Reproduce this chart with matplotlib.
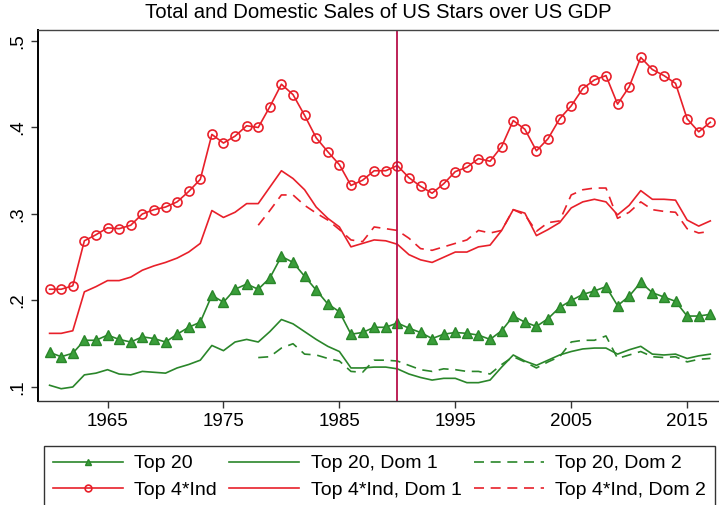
import numpy as np
import matplotlib
matplotlib.use("Agg")
import matplotlib.pyplot as plt

plt.rcParams['font.family'] = ['Liberation Sans', 'DejaVu Sans']

years = np.arange(1960, 2018)
years_dom2 = np.arange(1978, 2018)

top4 = [0.213, 0.213, 0.217, 0.269, 0.276, 0.284, 0.283, 0.287, 0.300, 0.305,
        0.308, 0.314, 0.326, 0.340, 0.392, 0.382, 0.390, 0.402, 0.400, 0.424,
        0.450, 0.438, 0.414, 0.388, 0.372, 0.357, 0.333, 0.339, 0.350, 0.350,
        0.356, 0.342, 0.332, 0.324, 0.335, 0.349, 0.354, 0.364, 0.361, 0.378,
        0.408, 0.398, 0.373, 0.387, 0.410, 0.425, 0.445, 0.455, 0.460, 0.427,
        0.447, 0.481, 0.467, 0.460, 0.451, 0.410, 0.395, 0.406]
top4_dom1 = [0.162, 0.162, 0.165, 0.210, 0.216, 0.223, 0.223, 0.227, 0.235, 0.240,
             0.244, 0.249, 0.256, 0.266, 0.304, 0.296, 0.302, 0.312, 0.312, 0.331,
             0.350, 0.341, 0.328, 0.308, 0.295, 0.285, 0.262, 0.266, 0.270, 0.269,
             0.265, 0.253, 0.247, 0.244, 0.250, 0.256, 0.256, 0.262, 0.264, 0.281,
             0.305, 0.301, 0.275, 0.282, 0.290, 0.307, 0.314, 0.317, 0.314, 0.299,
             0.310, 0.327, 0.317, 0.317, 0.316, 0.293, 0.286, 0.292]
top4_dom2 = [0.287, 0.304, 0.322, 0.322, 0.310, 0.301, 0.293, 0.282, 0.270, 0.268,
             0.285, 0.283, 0.281, 0.272, 0.260, 0.258, 0.262, 0.266, 0.270, 0.281,
             0.278, 0.281, 0.305, 0.299, 0.280, 0.290, 0.292, 0.322, 0.328, 0.330,
             0.330, 0.295, 0.302, 0.314, 0.305, 0.303, 0.302, 0.283, 0.278, 0.280]
top20 = [0.140, 0.135, 0.139, 0.154, 0.154, 0.160, 0.155, 0.152, 0.158, 0.156,
         0.152, 0.161, 0.169, 0.175, 0.206, 0.198, 0.213, 0.219, 0.213, 0.226,
         0.251, 0.244, 0.228, 0.212, 0.196, 0.187, 0.161, 0.163, 0.169, 0.169,
         0.174, 0.168, 0.163, 0.156, 0.161, 0.163, 0.162, 0.160, 0.155, 0.165,
         0.182, 0.175, 0.170, 0.179, 0.192, 0.200, 0.207, 0.211, 0.216, 0.194,
         0.205, 0.221, 0.209, 0.204, 0.199, 0.182, 0.182, 0.184]
top20_dom1 = [0.102, 0.098, 0.100, 0.114, 0.116, 0.120, 0.115, 0.114, 0.118, 0.117,
              0.116, 0.122, 0.126, 0.131, 0.148, 0.142, 0.152, 0.155, 0.152, 0.164,
              0.178, 0.173, 0.164, 0.155, 0.147, 0.141, 0.122, 0.122, 0.123, 0.123,
              0.121, 0.115, 0.111, 0.108, 0.110, 0.110, 0.105, 0.105, 0.108, 0.123,
              0.137, 0.130, 0.125, 0.131, 0.137, 0.141, 0.144, 0.145, 0.145, 0.138,
              0.143, 0.147, 0.138, 0.137, 0.138, 0.133, 0.136, 0.138]
top20_dom2 = [0.134, 0.135, 0.145, 0.150, 0.138, 0.137, 0.133, 0.130, 0.118, 0.117,
              0.131, 0.131, 0.130, 0.125, 0.120, 0.118, 0.121, 0.120, 0.118, 0.118,
              0.115, 0.126, 0.135, 0.129, 0.122, 0.129, 0.135, 0.152, 0.154, 0.154,
              0.159, 0.133, 0.137, 0.141, 0.135, 0.134, 0.135, 0.129, 0.132, 0.133]

xticks = [1965, 1975, 1985, 1995, 2005, 2015]
yticks = [0.1, 0.2, 0.3, 0.4, 0.5]
ytick_labels = ['.1', '.2', '.3', '.4', '.5']

green = '#2a862a'
green_fill = '#3a9e3a'
red = '#e8202a'
vline_col = '#b8104a'
dash = (6, 4)

fig = plt.figure(figsize=(7.19, 5.05), dpi=100)
ax = fig.add_axes([38/719, 1-401/505, 1-38/719, (401-30)/505])

l1, = ax.plot(years, top20, color=green, lw=1.2, marker='^', ms=6.5,
              mfc=green_fill, mec=green, mew=1.0, label='Top 20')
l2, = ax.plot(years, top4, color=red, lw=1.2, marker='o', ms=6.5,
              mfc='none', mec=red, mew=1.2, label='Top 4*Ind')
l3, = ax.plot(years, top20_dom1, color=green, lw=1.2, label='Top 20, Dom 1')
l4, = ax.plot(years, top4_dom1, color=red, lw=1.2, label='Top 4*Ind, Dom 1')
l5, = ax.plot(years_dom2, top20_dom2, color=green, lw=1.2, dashes=dash,
              label='Top 20, Dom 2')
l6, = ax.plot(years_dom2, top4_dom2, color=red, lw=1.2, dashes=dash,
              label='Top 4*Ind, Dom 2')
ax.axvline(1990, color=vline_col, lw=1.3)

ax.set_xlim(1959, 2017.75)
ax.set_ylim(0.0838, 0.5127)
ax.set_xticks(xticks)
ax.set_yticks(yticks)
ax.set_yticklabels(ytick_labels, rotation=90, va='center')
ax.tick_params(labelsize=13.5, length=5, width=1.0, color='#333333')
ax.spines['right'].set_visible(False)
ax.spines['left'].set_linewidth(1.4)
ax.spines['bottom'].set_linewidth(1.0)
ax.spines['top'].set_linewidth(1.0)
ax.spines['top'].set_color('#444444')
ax.spines['bottom'].set_color('#333333')

fig.text((38+719)/2/719, 1-13/505, 'Total and Domestic Sales of US Stars over US GDP',
         ha='center', va='center', fontsize=14.6)

leg = fig.legend([l1, l2, l3, l4, l5, l6],
                 [h.get_label() for h in [l1, l2, l3, l4, l5, l6]],
                 ncol=3, loc='upper left',
                 bbox_to_anchor=(44/719, 0, (715-44)/719, 1-446/505),
                 mode='expand', fontsize=14, handlelength=3.6,
                 handletextpad=0.6, columnspacing=0.8, borderpad=0.45,
                 borderaxespad=0, labelspacing=0.45, markerscale=0.75,
                 fancybox=False, edgecolor='#333333', framealpha=1)
leg.get_frame().set_linewidth(1.0)

fig.savefig('out.png', dpi=100)
